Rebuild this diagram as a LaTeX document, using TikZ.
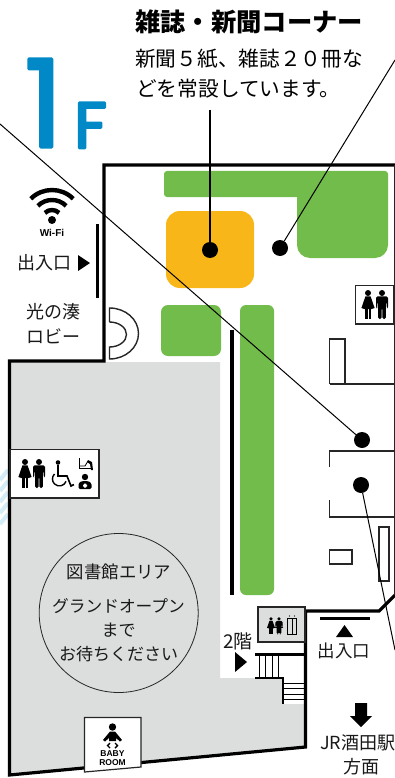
\documentclass[tikz,border=0pt]{standalone}
\usepackage{fontspec}
\setmainfont{Noto Sans CJK JP}
\newfontfamily\fwidfont[RawFeature=+fwid]{Noto Sans CJK JP}
\newfontfamily\arialfont{Liberation Sans}
\newfontfamily\bigfont{Poppins}
\usepackage{xcolor}
\usetikzlibrary{calc}
\definecolor{floorgray}{HTML}{DCDDDD}
\definecolor{shelfgreen}{HTML}{72BC4B}
\definecolor{cornerorange}{HTML}{F9B618}
\definecolor{titleblue}{HTML}{0089C6}
\definecolor{stripeblue}{HTML}{D3ECF8}
\newcommand{\jpsize}[1]{\fontsize{#1}{#1}\selectfont}
\newcommand{\roundtext}[2]{\special{pdf:code 2 Tr #1 w 1 j}#2\special{pdf:code 0 Tr}}
\tikzstyle{wall} = [draw=black, line width=3.2pt, line join=miter]
\tikzstyle{thinwall} = [draw=black!85, line width=1.2pt]
\tikzstyle{bar} = [draw=black, line width=3.5pt]
\tikzstyle{shelf} = [fill=shelfgreen]
\tikzstyle{dot} = [circle, fill=black, minimum size=16pt, inner sep=0pt]
\tikzstyle{leader} = [draw=black, line width=1pt]
\tikzstyle{label} = [inner sep=0pt, font=\jpsize{18}, text=black!90]
\tikzstyle{signbox} = [draw=black!85, fill=white, line width=1.2pt]
\tikzstyle{tip} = [fill=black]
\tikzset{
  womanicon/.pic={
    \fill (0,3) circle (3);
    \fill (-2.6,6.4) -- (2.6,6.4) -- (6.6,18) -- (3.6,19) -- (-3.6,19) -- (-6.6,18) -- cycle;
    \fill (-2.8,18) rectangle (-0.5,29);
    \fill (0.5,18) rectangle (2.8,29);
  },
  manicon/.pic={
    \fill (0,3) circle (3);
    \fill[rounded corners=1.5pt] (-6,6.4) -- (6,6.4) -- (6,18) -- (4.6,18) -- (4.6,12) -- (3.8,12) -- (3.8,29) -- (0.4,29) -- (0.4,18) -- (-0.4,18) -- (-0.4,29) -- (-3.8,29) -- (-3.8,12) -- (-4.6,12) -- (-4.6,18) -- (-6,18) -- cycle;
  }
}
\begin{document}
\begin{tikzpicture}[x=1pt, y=-1pt]
\useasboundingbox[fill=white] (0,0) rectangle (395,778);
% stripes
\foreach \y in {470,481,492,503,514} {
  \draw[stripeblue, line width=4pt] (0,\y+10) -- (8,\y);
}
% floor
\fill[floorgray] (9,362) -- (220,362) -- (220,678) -- (283,678) -- (283,704) -- (305,704) -- (305,747) -- (9,775) -- cycle;
\fill[shelf] (200,171) [rounded corners=3pt] -- (388,171) [rounded corners=13pt] -- (388,258) -- (297,258) [sharp corners] -- (297,197) [rounded corners=3pt] -- (164,197) -- (164,171) -- cycle;
\fill[cornerorange, rounded corners=14pt] (166,211) rectangle (254,288);
\fill[shelf, rounded corners=7pt] (161,305) rectangle (221,356);
\fill[shelf, rounded corners=6pt] (240,305) rectangle (274,595);
% walls
\draw[wall] (395,165) -- (104,165) -- (104,361) -- (9.5,361) -- (9.5,775) -- (305.5,747) -- (305.5,611) -- (379,611) -- (395,595);
\draw[thinwall] (394.5,165) -- (394.5,595);
\draw[bar, line width=3pt] (97,224) -- (97,298);
\draw[bar] (232,330) -- (232,595);
\draw[thinwall, line width=1.4pt] (109.5,322) -- (109.5,308) arc (270:450:29 and 25.5) -- (109.5,347) arc (90:-90:17 and 12.5);
% right side rooms
\draw[thinwall] (329.5,384) -- (329.5,339) -- (345,339) -- (345,384);
\draw[thinwall] (329.5,384) -- (395,384);
\draw[thinwall] (329.5,467) -- (329.5,451) -- (395,451);
\draw[thinwall] (329.5,500) -- (329.5,517) -- (395,517);
\draw[thinwall] (329.5,550) rectangle (352,564);
\draw[thinwall] (379,527) rectangle (389,581);
% signs
\draw[signbox] (355.5,285.5) rectangle (394,324);
\pic at (368,290) {womanicon};
\pic at (382,290) {manicon};
\draw[signbox] (10,449.5) rectangle (99,498);
\pic at (25,459) {womanicon};
\pic at (39,459) {manicon};
\fill (58,462.5) circle (2.3);
\draw[line width=1.6pt] (58,465) -- (58,476) -- (67,476) -- (71,486) -- (74,484.5);
\draw[line width=1.4pt] (54.5,474) arc (225:20:7);
\draw[line width=.8pt] (79,458) -- (79,468) -- (91,468);
\draw[line width=.8pt] (79,466) -- (85,466) -- (88,461);
\fill (88,460) -- (92,462) -- (93,470) -- (91,470) -- (90,464) -- (87,462) -- cycle;
\fill (85,477) circle (3.2);
\fill[rounded corners=1.5pt] (78.5,489) -- (78.5,483) -- (82,481) -- (88,481) -- (91.5,483) -- (91.5,489) -- cycle;
\fill[white] (84,483.5) rectangle (86,487.5) (83,484.5) rectangle (87,486.5);
\draw[signbox] (84.5,717.5) -- (141,717.5) -- (141,767) -- (84.5,772) -- cycle;
\fill (112.5,727) circle (3.7);
\fill (110,731.5) -- (115,731.5) -- (122,740) -- (120,741.5) -- (116,738) -- (116,741) -- (109,741) -- (109,738) -- (105,741.5) -- (103,740) -- cycle;
\draw[line width=1.4pt] (110,743) -- (107.5,745.5) -- (110,748);
\draw[line width=1.4pt] (115,743) -- (117.5,745.5) -- (115,748);
\node[inner sep=0pt, font=\arialfont\bfseries\jpsize{8.5}] (babytext) at (112.5,754) {BABY};
\node[inner sep=0pt, font=\arialfont\bfseries\jpsize{8.5}] (roomtext) at (112.5,763) {ROOM};
% toilet and lift
\draw[draw=black!85, fill=floorgray, line width=1.4pt] (258,607) rectangle (305,642);
\pic[scale=.6] at (271,617) {womanicon};
\pic[scale=.6] at (279,617) {manicon};
\draw[black, line width=1pt] (287.5,618.5) rectangle (296.5,634);
\draw[black, line width=.8pt] (292,618.5) -- (292,634);
\fill (289.5,616) circle (.7) (294.5,616) circle (.7);
% stairs
\draw[bar, line width=3pt] (255,654.5) -- (306,654.5);
\draw[draw=black, line width=2pt] (255,678) -- (283,678) -- (283,704);
\foreach \x in {259.5,265,272,278} {
  \draw[black, line width=1pt] (\x,654) -- (\x,678);
}
\foreach \y in {683,688.5,694,699} {
  \draw[black, line width=1pt] (283,\y) -- (305,\y);
}
% entrance marks
\draw[bar, line width=2.8pt] (320,618.5) -- (370,618.5);
\fill[tip] (344.5,625) -- (353,637) -- (336,637) -- cycle;
\fill[tip] (78,255) -- (90,263) -- (78,271) -- cycle;
\fill[tip] (235,652) -- (247,662) -- (235,672) -- cycle;
\fill[tip] (355,703) -- (367,703) -- (367,716) -- (372,716) -- (361,727) -- (350,716) -- (355,716) -- cycle;
% wifi
\node[circle, fill=black, minimum size=8pt, inner sep=0pt] (wifidot) at (52,220) {};
\foreach \r in {10,20,30} {
  \draw[line width=4.4pt] (wifidot.center) ++(225:\r) arc (225:315:\r);
}
\node[inner sep=0pt, font=\arialfont\bfseries\jpsize{10}] (wifitext) at (52,233) {Wi-Fi};
% title
\node[anchor=west, inner sep=0pt, font=\bfseries\jpsize{25.3}] (title) at (135,22) {雑誌・新聞コーナー};
\node[anchor=west, inner sep=0pt, font=\fwidfont\jpsize{20.7}] (textone) at (135,59) {新聞5紙、雑誌20冊な};
\node[anchor=west, inner sep=0pt, font=\jpsize{20.7}] (texttwo) at (136,89) {どを常設しています。};
\node[anchor=base west, inner sep=0pt, text=titleblue, font=\bigfont\jpsize{122}] (bigone) at (24,147) {\roundtext{3}{1}};
\node[anchor=base west, inner sep=0pt, text=titleblue, font=\bigfont\jpsize{65}] (bigf) at (74,148) {\roundtext{2.5}{F}};
% labels
\node[label, anchor=west] (entryone) at (17,263) {出入口};
\node[label, anchor=west] (lobbyone) at (26,312) {光の湊};
\node[label, anchor=west] (lobbytwo) at (26,336) {ロビー};
\node[label, font=\jpsize{19}] (stairtext) at (238,641) {2階};
\node[label, font=\jpsize{17.5}] (entrytwo) at (344,651) {出入口};
\node[label, anchor=west] (stationone) at (320,743) {JR酒田駅};
\node[label] (stationtwo) at (361,767) {方面};
% circle
\node[circle, draw=black!85, line width=.8pt, minimum size=159pt, inner sep=0pt] (closed) at (118.7,613) {};
\node[label, font=\jpsize{17.4}] (closedone) at (119,572) {図書館エリア};
\node[label, font=\jpsize{16.7}] (closedtwo) at (118.5,606) {グランドオープン};
\node[label, font=\jpsize{17}] (closedthree) at (118.5,630) {まで};
\node[label, font=\jpsize{17}] (closedfour) at (118.5,654) {お待ちください};
% leaders
\node[dot] (cornerdot) at (210,250) {};
\node[dot] (dotright) at (280,248) {};
\node[dot] (dotmid) at (362,440) {};
\node[dot] (dotlow) at (361,485) {};
\coordinate (cornerend) at (210,110);
\coordinate (rightend) at (395,60);
\coordinate (midend) at (0,124);
\coordinate (lowend) at (395,650);
\draw[leader, line width=2pt] (cornerend) -- (cornerdot);
\draw[leader] (rightend) -- (dotright);
\draw[leader] (midend) -- (dotmid);
\draw[leader] (lowend) -- (dotlow);
\end{tikzpicture}
\end{document}
